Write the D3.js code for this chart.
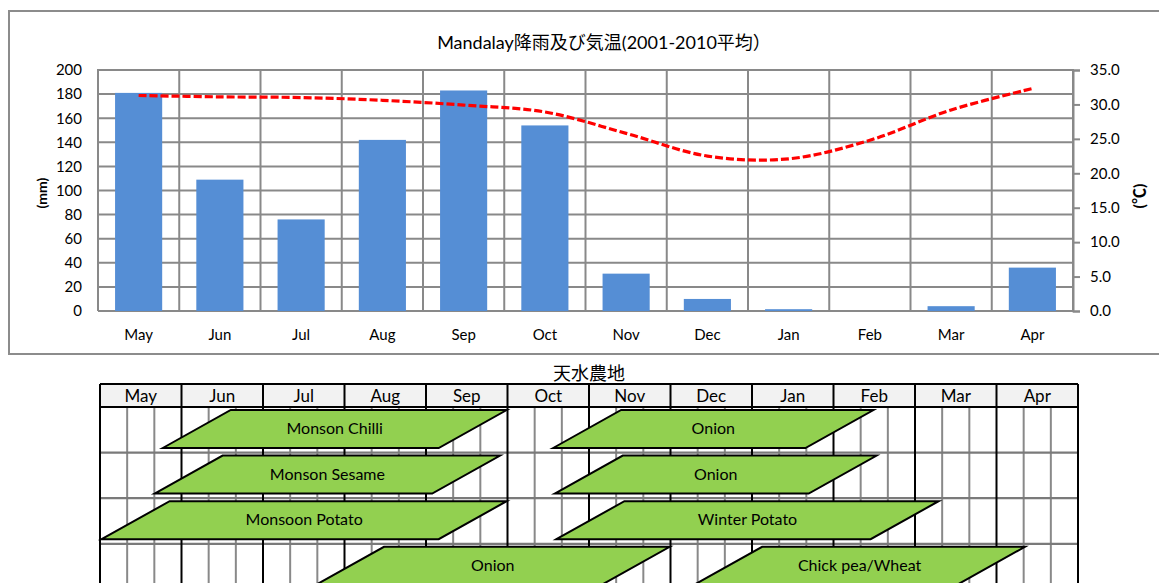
<!DOCTYPE html>
<html><head><meta charset="utf-8">
<script src="https://cdn.jsdelivr.net/npm/d3@7"></script>
<style>
body{margin:0;background:#fff;overflow:hidden}
svg{display:block}
text{font-family:Lato,"Noto Sans CJK JP",sans-serif;fill:#000}
</style>
</head><body>
<svg id="c" width="1159" height="583"></svg>
<script>
// ---------- data ----------
const months = ["May","Jun","Jul","Aug","Sep","Oct","Nov","Dec","Jan","Feb","Mar","Apr"];
const rainfall = [181, 109, 76, 142, 183, 154, 31, 10, 1.5, 0, 4, 36];
const temperature = [31.3, 31.1, 31.0, 30.6, 29.9, 28.9, 25.8, 22.5, 22.1, 24.8, 29.2, 32.3];
const rainTicks = [0, 20, 40, 60, 80, 100, 120, 140, 160, 180, 200];
const tempTicks = [0, 5, 10, 15, 20, 25, 30, 35];
const chartTitle = "Mandalay降雨及び気温(2001-2010平均）";
const tableTitle = "天水農地";
const cropNames = ["Monson Chilli", "Monson Sesame", "Monsoon Potato", "Onion", "Onion", "Onion", "Winter Potato", "Chick pea/Wheat"];
const cropRows  = [0, 1, 2, 3, 0, 1, 2, 3];
const cropStart = [0.77, 0.67, 0.02, 2.65, 5.56, 5.58, 5.60, 7.29];
const cropEnd   = [4.99, 4.91, 4.99, 6.99, 9.49, 9.53, 10.29, 11.35];

// ---------- layout ----------
const svg = d3.select("#c");
const grid = "#898989";
const P = {l: 98, r: 1073, t: 70, b: 311};

svg.append("rect").attr("x", 9).attr("y", 11).attr("width", 1190).attr("height", 343)
  .attr("fill", "none").attr("stroke", "#8c8c8c").attr("stroke-width", 2);

svg.append("text").attr("x", 604).attr("y", 49).attr("text-anchor", "middle")
  .style("font-size", "18px").text(chartTitle);

const x = d3.scaleBand().domain(months).range([P.l, P.r]).paddingInner(0.42).paddingOuter(0.21);
const xb = d3.scaleLinear().domain([0, months.length]).range([P.l, P.r]);
const yL = d3.scaleLinear().domain([0, 200]).range([P.b, P.t]);
const yR = d3.scaleLinear().domain([0, 35]).range([P.b, P.t]);

const g = svg.append("g");
g.selectAll(".hg").data(rainTicks).join("line")
  .attr("x1", P.l).attr("x2", P.r).attr("y1", d => yL(d)).attr("y2", d => yL(d))
  .attr("stroke", grid).attr("stroke-width", 2);
g.selectAll(".vg").data(d3.range(months.length + 1)).join("line")
  .attr("x1", d => xb(d)).attr("x2", d => xb(d)).attr("y1", P.t - 1).attr("y2", P.b)
  .attr("stroke", grid).attr("stroke-width", 2);

g.selectAll(".bar").data(rainfall).join("rect")
  .attr("x", (d, i) => x(months[i])).attr("width", x.bandwidth())
  .attr("y", d => yL(d)).attr("height", d => P.b - yL(d))
  .attr("fill", "#558ED5");

const axL = d3.axisLeft(yL).tickValues(rainTicks).tickSize(0).tickPadding(16);
svg.append("g").attr("transform", `translate(${P.l},0)`).call(axL)
  .call(s => s.select(".domain").remove())
  .call(s => s.selectAll("text").style("font-size", "15px").style("font-family", "Lato,sans-serif"));
const axR = d3.axisRight(yR).tickValues(tempTicks).tickSize(7).tickPadding(10).tickFormat(d3.format(".1f"));
svg.append("g").attr("transform", `translate(${P.r},0)`).call(axR)
  .call(s => s.select(".domain").attr("stroke", grid).attr("stroke-width", 2))
  .call(s => s.selectAll("line").attr("stroke", grid).attr("stroke-width", 2))
  .call(s => s.selectAll("text").style("font-size", "15px").style("font-family", "Lato,sans-serif"));
const axB = d3.axisBottom(x).tickSize(0).tickPadding(18);
svg.append("g").attr("transform", `translate(0,${P.b})`).call(axB)
  .call(s => s.select(".domain").remove())
  .call(s => s.selectAll("text").style("font-size", "15px").style("font-family", "Lato,sans-serif"));

svg.append("text").attr("transform", "translate(47,193) rotate(-90)").attr("text-anchor", "middle")
  .style("font-size", "14px").style("font-weight", "bold").text("(mm)");
svg.append("text").attr("transform", "translate(1145,196) rotate(-90)").attr("text-anchor", "middle")
  .style("font-size", "16px").style("font-weight", "bold").text("(℃)");

const line = d3.line().x((d, i) => x(months[i]) + x.bandwidth() / 2).y(d => yR(d))
  .curve(d3.curveCatmullRom.alpha(0.5));
svg.append("path").datum(temperature).attr("d", line).attr("fill", "none")
  .attr("stroke", "#FF0000").attr("stroke-width", 3.2).attr("stroke-dasharray", "8,3");

// ---------- crop calendar ----------
const T = {l: 100, r: 1078, t: 384, h: 407, rowH: 45.6};
const tx = d3.scaleLinear().domain([0, 12]).range([T.l, T.r]);
const rowY = r => T.h + r * T.rowH;

svg.append("text").attr("x", 589).attr("y", 380).attr("text-anchor", "middle")
  .style("font-size", "18px").text(tableTitle);

svg.append("rect").attr("x", T.l).attr("y", T.t).attr("width", T.r - T.l).attr("height", T.h - T.t)
  .attr("fill", "#F2F2F2");
const dekads = d3.range(12).flatMap(m => [m + 1/3, m + 2/3]);
svg.selectAll(".dk").data(dekads).join("line")
  .attr("x1", d => tx(d)).attr("x2", d => tx(d)).attr("y1", T.h).attr("y2", 600)
  .attr("stroke", grid).attr("stroke-width", 2);
svg.selectAll(".rl").data([1, 2, 3]).join("line")
  .attr("x1", T.l).attr("x2", T.r).attr("y1", d => rowY(d)).attr("y2", d => rowY(d))
  .attr("stroke", "#7a7a7a").attr("stroke-width", 2.2);
svg.selectAll(".mb").data(d3.range(13)).join("line")
  .attr("x1", d => tx(d)).attr("x2", d => tx(d)).attr("y1", T.t).attr("y2", 600)
  .attr("stroke", "#000").attr("stroke-width", 2);
svg.append("line").attr("x1", T.l).attr("x2", T.r).attr("y1", T.t).attr("y2", T.t)
  .attr("stroke", "#000").attr("stroke-width", 2);
svg.append("line").attr("x1", T.l).attr("x2", T.r).attr("y1", T.h).attr("y2", T.h)
  .attr("stroke", "#000").attr("stroke-width", 2);
svg.selectAll(".hd").data(months).join("text")
  .attr("x", (d, i) => tx(i + 0.5)).attr("y", 402).attr("text-anchor", "middle")
  .style("font-size", "17px").text(d => d);

const skew = 68, ph = 38, pOff = 3;
const crops = cropNames.map((n, i) => ({name: n, row: cropRows[i], s: cropStart[i], e: cropEnd[i]}));
const cg = svg.selectAll(".crop").data(crops).join("g");
cg.append("path")
  .attr("d", d => {
    const x0 = tx(d.s), x1 = tx(d.e), yt = rowY(d.row) + pOff, yb = yt + ph;
    return `M${x0},${yb} L${x0 + skew},${yt} L${x1},${yt} L${x1 - skew},${yb} Z`;
  })
  .attr("fill", "#92D050").attr("stroke", "#000").attr("stroke-width", 2).attr("stroke-linejoin", "miter");
cg.append("text")
  .attr("x", d => (tx(d.s) + tx(d.e)) / 2).attr("y", d => rowY(d.row) + pOff + ph / 2 + 5)
  .attr("text-anchor", "middle").style("font-size", "16px").text(d => d.name);
</script>
</body></html>
